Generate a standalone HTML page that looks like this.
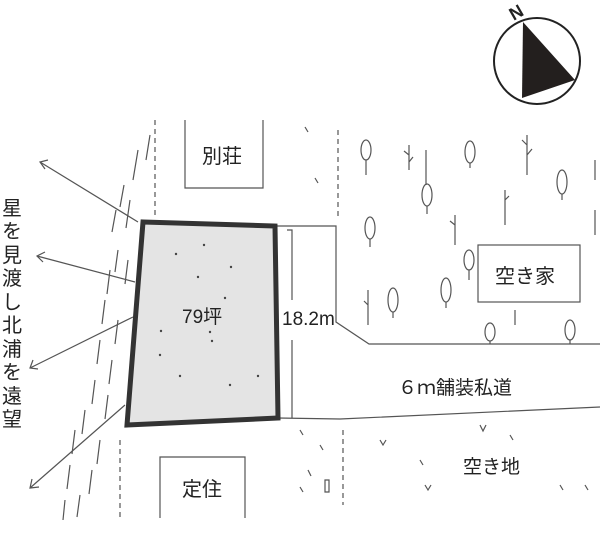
<!DOCTYPE html>
<html><head><meta charset="utf-8"><style>
html,body{margin:0;padding:0;background:#fff;}
svg{display:block}
text{font-family:"Liberation Sans","Noto Sans CJK JP",sans-serif;fill:#222}
</style></head><body>
<svg width="600" height="540" viewBox="0 0 600 540" xmlns="http://www.w3.org/2000/svg">
<g stroke="#555" fill="none" stroke-width="1.2">
<path d="M150 135l-4 25M138 150l-5 30M124 185l-4 22M116 210l-4 22M130 200l-4 28M118 250l-3 22M110 270l-3 24M128 260l-3 24M105 300l-3 24M118 320l-3 24M100 340l-3 24M112 360l-3 24M95 380l-3 24M108 395l-3 24M85 410l-3 24M75 430l-3 24M100 440l-3 24M92 470l-3 24M70 465l-3 24M80 495l-3 22M65 500l-2 20"/>
<path d="M155 120V215M338 130V220M343 430V505M120 440V520" stroke-dasharray="5 4"/>
<path d="M185 120V188H263V120"/>
<path d="M160 518V457H245V518"/>
<rect x="478" y="245" width="102" height="57"/>
<path d="M275 226H336V322L369 344H600"/>
<path d="M278 418L340 419 600 407"/>
<path d="M287 230H292V300M292 340V418"/>
<path d="M138 222L40 162M48 160l-8 2 5 7"/>
<path d="M135 282L37 256M45 252l-8 4 6 6"/>
<path d="M133 317L30 368M33 360l-3 8 8 1"/>
<path d="M125 405L30 488M32 479l-2 9 9-1"/>
<g stroke-width="1.2">
<ellipse cx="366" cy="150" rx="5" ry="10"/><path d="M366 160v15"/>
<ellipse cx="470" cy="152" rx="5" ry="11"/><path d="M470 163v5"/>
<ellipse cx="427" cy="195" rx="5" ry="11"/><path d="M427 206v8"/>
<ellipse cx="562" cy="182" rx="5" ry="12"/><path d="M562 194v6"/>
<ellipse cx="370" cy="228" rx="5" ry="11"/><path d="M370 239v8"/>
<ellipse cx="469" cy="260" rx="5" ry="10"/><path d="M469 270v10"/>
<ellipse cx="393" cy="300" rx="5" ry="12"/><path d="M393 312v6"/>
<ellipse cx="446" cy="290" rx="5" ry="12"/><path d="M446 302v6"/>
<ellipse cx="490" cy="332" rx="5" ry="9"/><path d="M490 341v3"/>
<ellipse cx="570" cy="330" rx="5" ry="10"/><path d="M570 340v4"/>
<path d="M409 145v25M409 155l-5-4M409 162l4-5M527 135v40M527 145l-5-5M527 155l5-6M505 190v35M505 200l4-4M455 215v30M455 225l-5-4M368 290v35M368 305l-4-4M515 310v15M595 160v20M595 210v25M426 150v35"/>
</g>
<path d="M380 440l3 5 3-5M420 460l3 5M480 425l3 6 3-6M510 435l3 5M585 485l3 5M425 485l3 5 3-5M560 485l3 5M300 430l3 5M320 445l3 5M300 487l3 5M305 127l3 5M315 178l3 5M308 470l3 6"/>
<path d="M325 480h4v12h-4z"/>
</g>
<polygon points="143,222 275,226 278,418 127,425" fill="#e4e4e4" stroke="#333" stroke-width="5"/>
<g fill="#444">
<circle cx="204" cy="245" r="1.2"/><circle cx="176" cy="254" r="1.2"/><circle cx="231" cy="267" r="1.2"/><circle cx="198" cy="277" r="1.2"/><circle cx="225" cy="298" r="1.2"/><circle cx="161" cy="331" r="1.2"/><circle cx="210" cy="332" r="1.2"/><circle cx="212" cy="341" r="1.2"/><circle cx="160" cy="355" r="1.2"/><circle cx="180" cy="376" r="1.2"/><circle cx="230" cy="385" r="1.2"/><circle cx="258" cy="376" r="1.2"/>
</g>
<circle cx="537" cy="61" r="43" fill="#fff" stroke="#222" stroke-width="2"/>
<polygon points="523,22 575,80 522,98" fill="#231f1e"/>
<text x="509" y="18" font-size="18" font-weight="bold" transform="rotate(-30 517 11)">N</text>
<text x="202" y="163" font-size="20">別荘</text>
<text x="182" y="496" font-size="20">定住</text>
<text x="495" y="283" font-size="20">空き家</text>
<text x="398" y="394" font-size="19">６ｍ舗装私道</text>
<text x="463" y="473" font-size="19">空き地</text>
<text x="182" y="323" font-size="19">79坪</text>
<text x="282" y="325" font-size="19">18.2m</text>
<g font-size="20">
<text x="2" y="215">星</text><text x="2" y="238">を</text><text x="2" y="262">見</text><text x="2" y="285">渡</text><text x="2" y="309">し</text><text x="2" y="332">北</text><text x="2" y="356">浦</text><text x="2" y="379">を</text><text x="2" y="403">遠</text><text x="2" y="426">望</text>
</g>
</svg>
</body></html>
